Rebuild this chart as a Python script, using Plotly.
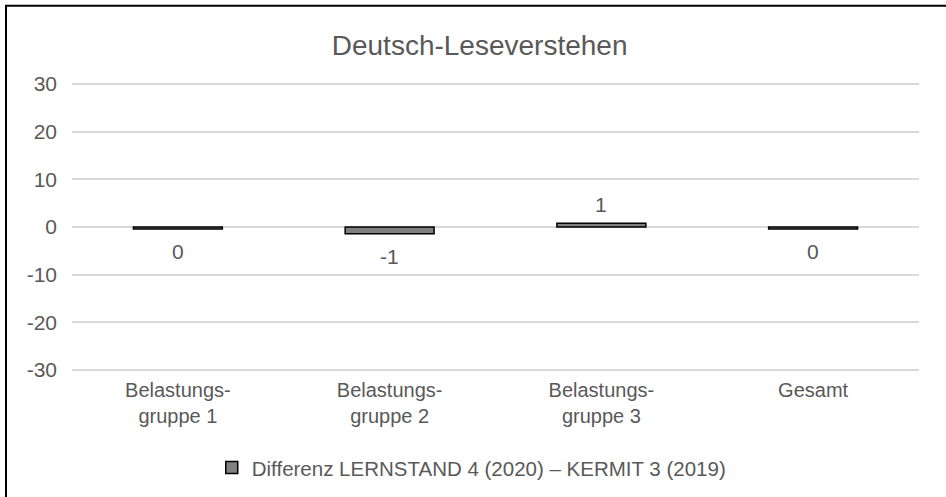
import plotly.graph_objects as go

categories = ["Belastungs-<br>gruppe 1", "Belastungs-<br>gruppe 2", "Belastungs-<br>gruppe 3", "Gesamt"]
differenz = [-0.4, -1.4, 0.8, -0.4]
value_labels = ["0", "-1", "1", "0"]
series_name = "Differenz LERNSTAND 4 (2020) – KERMIT 3 (2019)"
y_ticks = [-30, -20, -10, 0, 10, 20, 30]

FONT = "Liberation Sans, Arial, sans-serif"
TXT = "#595959"

fig = go.Figure()
fig.add_trace(go.Bar(
    x=categories, y=differenz, name=series_name,
    marker=dict(color="#808080", line=dict(color="#000000", width=1.5)),
    showlegend=True,
))

annotations = []
for c, v, t in zip(categories, differenz, value_labels):
    annotations.append(dict(
        x=c, y=v, xref="x", yref="y", text=t, showarrow=False,
        yanchor="top" if v < 0 else "bottom",
        yshift=-9 if v < 0 else 5,
        font=dict(family=FONT, size=21, color=TXT),
    ))

# plot area: y=30 at 84px, y=-30 at 370px; range padded so edge gridlines are drawn
PAD = 0.4
pxu = (370 - 84) / 60.0
top = 84 - PAD * pxu
height = 286 + 2 * PAD * pxu

fig.update_layout(
    width=946, height=497,
    paper_bgcolor="white", plot_bgcolor="white",
    margin=dict(l=72, r=27, t=top, b=497 - top - height, autoexpand=False),
    bargap=0.58,
    title=dict(text="Deutsch-Leseverstehen", x=0.507, xanchor="center",
               y=0.909, yanchor="middle",
               font=dict(family=FONT, size=28, color=TXT)),
    font=dict(family=FONT, color=TXT),
    legend=dict(orientation="h", x=0.165, xanchor="left", y=-0.33, yanchor="middle",
                font=dict(family=FONT, size=20.5, color=TXT)),
    annotations=annotations,
    shapes=[dict(type="rect", xref="paper", yref="paper",
                 x0=(6 - 72) / 847, x1=1.2, y0=-0.6, y1=(370 + PAD * pxu - 6) / height,
                 line=dict(color="#000000", width=2), fillcolor="rgba(0,0,0,0)")],
)
fig.update_yaxes(range=[-30 - PAD, 30 + PAD], tickvals=y_ticks, ticktext=[str(t) for t in y_ticks],
                 showgrid=True, gridcolor="#d9d9d9", gridwidth=1.5,
                 zeroline=True, zerolinecolor="#d9d9d9", zerolinewidth=1.5,
                 showline=False, ticks="", ticklabelstandoff=14,
                 tickfont=dict(family=FONT, size=21, color=TXT))
fig.update_xaxes(showgrid=False, showline=False, ticks="", zeroline=False,
                 ticklabelstandoff=4,
                 tickfont=dict(family=FONT, size=20, color=TXT))

fig.write_html("out.html", config={"displayModeBar": False},
               post_script="document.body.style.margin='0';document.body.style.overflow='hidden';")
